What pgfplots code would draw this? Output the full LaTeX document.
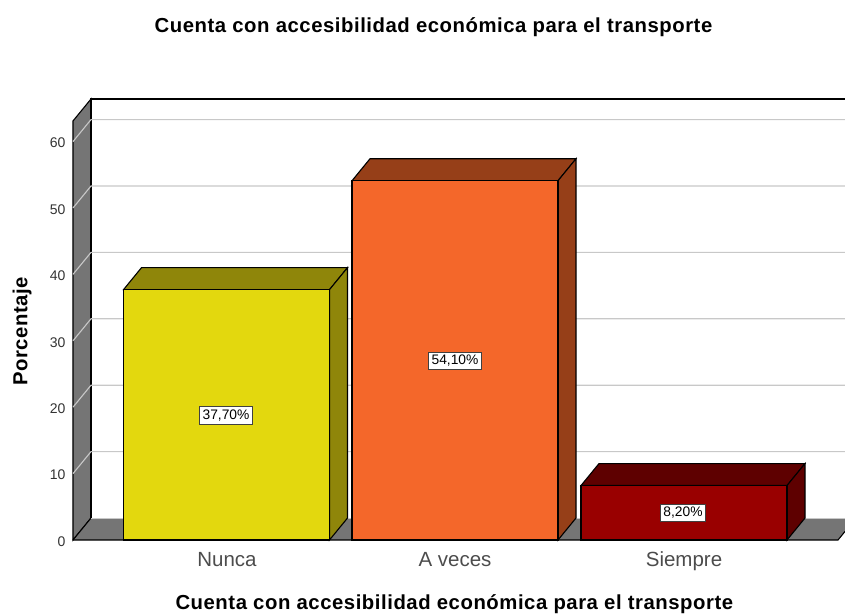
\documentclass[border=0pt]{standalone}
\usepackage{fontspec}
\setmainfont{Liberation Sans}
\newfontfamily\spacedbold[LetterSpace=2.7]{Liberation Sans Bold}
\usepackage{pgfplots}
\pgfplotsset{compat=1.18}
\definecolor{wallgray}{HTML}{757575}
\definecolor{gridgray}{HTML}{C8C8C8}
\definecolor{yfront}{HTML}{E3D80E}
\definecolor{yside}{HTML}{8F860A}
\definecolor{ofront}{HTML}{F4672A}
\definecolor{oside}{HTML}{963F18}
\definecolor{rfront}{HTML}{990000}
\definecolor{rside}{HTML}{5E0000}
\begin{document}
\begin{tikzpicture}[x=1pt,y=1pt]
\useasboundingbox (-73,-73) rectangle (772,540);
\begin{axis}[
  at={(0,0)}, anchor=origin,
  scale only axis, width=772pt, height=441pt,
  xmin=73, xmax=845, ymin=0, ymax=66.41,
  clip=false,
  axis line style={draw=none},
  tick style={draw=none},
  major tick length=0pt,
  xtick={227,455,684},
  xticklabels={Nunca,A veces,Siempre},
  ytick={0,10,20,30,40,50,60},
  /pgf/number format/assume math mode=true,
  yticklabel style={font=\fontsize{14}{16}\selectfont, text=black!80, xshift=-4pt, yshift=-1.5pt},
  xticklabel style={font=\fontsize{20.5}{23}\selectfont, text=black!70, text height=14.5pt, text depth=4pt, yshift=-8pt},
  every axis title shift=0pt,
  title={Cuenta con accesibilidad económica para el transporte},
  title style={font=\fontsize{20.3}{23}\spacedbold, at={(axis description cs:0.467,1.163)}, anchor=center},
  xlabel={Cuenta con accesibilidad económica para el transporte},
  xlabel style={font=\fontsize{20.3}{23}\spacedbold, at={(axis description cs:0.494,-0.1445)}, anchor=center},
  ylabel={Porcentaje},
  ylabel style={font=\fontsize{20.3}{23}\spacedbold, at={(axis description cs:-0.066,0.4735)}, anchor=center, rotate=0},
]
% side wall
\addplot[fill=wallgray, draw=black, line width=1.1pt] coordinates {(73,0)(91,3.31)(91,66.41)(73,63.1)} -- cycle;
% floor
\addplot[fill=wallgray, draw=none] coordinates {(73,0)(838,0)(845,1.29)(845,3.31)(91,3.31)} -- cycle;
\addplot[draw=black, line width=1.1pt] coordinates {(73,0)(838,0)(845,1.29)};
\addplot[draw=black, line width=1.1pt] coordinates {(73,0)(91,3.31)};
\addplot[draw=black, line width=1.1pt] coordinates {(91,3.31)(91,66.41)(845,66.41)};
\addplot[draw=gridgray, line width=1pt] coordinates {(91,3.31)(845,3.31)};
% gridlines
\pgfplotsinvokeforeach{10,20,30,40,50,60}{
  \addplot[draw=gridgray, line width=1.1pt] coordinates {(73,#1)(91,#1+3.31)(845,#1+3.31)};
}
% Nunca
\addplot[fill=yside, draw=black, line width=1.1pt] coordinates {(123.5,37.7)(141.5,41.01)(347.5,41.01)(329.5,37.7)} -- cycle;
\addplot[fill=yside, draw=black, line width=1.1pt] coordinates {(329.5,0)(347.5,3.31)(347.5,41.01)(329.5,37.7)} -- cycle;
\addplot[fill=yfront, draw=black, line width=1.1pt] coordinates {(123.5,0)(329.5,0)(329.5,37.7)(123.5,37.7)} -- cycle;
% A veces
\addplot[fill=oside, draw=black, line width=1.1pt] coordinates {(352,54.1)(370,57.41)(576,57.41)(558,54.1)} -- cycle;
\addplot[fill=oside, draw=black, line width=1.1pt] coordinates {(558,0)(576,3.31)(576,57.41)(558,54.1)} -- cycle;
\addplot[fill=ofront, draw=black, line width=1.1pt] coordinates {(352,0)(558,0)(558,54.1)(352,54.1)} -- cycle;
% Siempre
\addplot[fill=rside, draw=black, line width=1.1pt] coordinates {(581,8.2)(599,11.51)(805,11.51)(787,8.2)} -- cycle;
\addplot[fill=rside, draw=black, line width=1.1pt] coordinates {(787,0)(805,3.31)(805,11.51)(787,8.2)} -- cycle;
\addplot[fill=rfront, draw=black, line width=1.1pt] coordinates {(581,0)(787,0)(787,8.2)(581,8.2)} -- cycle;
% value labels
\addplot[draw=none, mark=none, point meta=explicit symbolic, nodes near coords,
  nodes near coords style={anchor=center, fill=white, draw=black!75, line width=0.9pt,
    font=\fontsize{13.8}{16}\selectfont, inner xsep=3pt, inner ysep=3pt, text=black}]
  coordinates {(226,18.75)[37,70\%] (455,27)[54,10\%] (683,4.1)[8,20\%]};
\end{axis}
\end{tikzpicture}
\end{document}
